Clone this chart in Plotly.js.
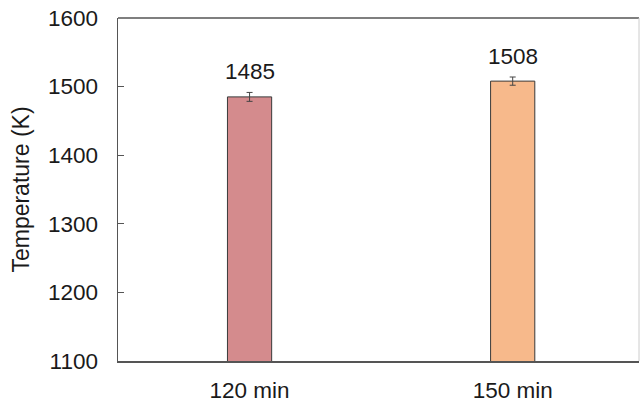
<!DOCTYPE html>
<html><head><meta charset="utf-8">
<script src="https://cdn.plot.ly/plotly-3.0.1.min.js"></script>
<style>html,body{margin:0;padding:0;background:#fff}#chart{width:640px;height:401px}</style>
</head><body><div id="chart"></div>
<script>
const categories = ["120 min", "150 min"];
const temperatures = [1485, 1508];
const errors = [6.5, 6];
const barColors = ["#d48b8d", "#f7b98b"];
const yTicks = [1100, 1200, 1300, 1400, 1500, 1600];

const font = {family: "Liberation Sans, Arial, sans-serif", size: 22.5, color: "#1a1a1a"};
const titleFont = {family: "Liberation Sans, Arial, sans-serif", size: 23, color: "#1a1a1a"};

const trace = {
  type: "bar",
  x: categories,
  y: temperatures,
  width: 0.168,
  marker: {color: barColors, line: {color: "#3a3a3a", width: 1}},
  error_y: {type: "data", array: errors, visible: true, color: "#444", thickness: 1, width: 3},
  hoverinfo: "none"
};

const annotations = categories.map((c, i) => ({
  x: c, y: temperatures[i], text: String(temperatures[i]),
  showarrow: false, yshift: 25, yanchor: "middle", xanchor: "center",
  font: font
}));

const layout = {
  width: 640, height: 401,
  margin: {l: 118, r: 1, t: 18, b: 40},
  paper_bgcolor: "#fff", plot_bgcolor: "#fff",
  showlegend: false,
  font: font,
  xaxis: {
    type: "category", range: [-0.5, 1.48],
    showline: true, linecolor: "#555", linewidth: 1.5, mirror: false,
    ticks: "", showgrid: false, tickfont: font, ticklabelstandoff: 8
  },
  yaxis: {
    range: [1100, 1600], tickvals: yTicks, ticktext: yTicks.map(String),
    showline: true, linecolor: "#555", linewidth: 1.5,
    ticks: "inside", ticklen: 6, tickcolor: "#555",
    showgrid: false, zeroline: false, tickfont: font,
    ticklabelstandoff: 14,
    title: {text: "Temperature (K)", font: titleFont, standoff: 12}
  },
  shapes: [
    {type: "line", xref: "paper", yref: "paper", x0: 0, x1: 1, y0: 1, y1: 1, line: {color: "#555", width: 1.5}},
    {type: "line", xref: "paper", yref: "paper", x0: 1, x1: 1, y0: 0, y1: 1, line: {color: "#ccc", width: 1}}
  ],
  annotations: annotations
};

Plotly.newPlot("chart", [trace], layout, {displayModeBar: false, staticPlot: true});
</script></body></html>
